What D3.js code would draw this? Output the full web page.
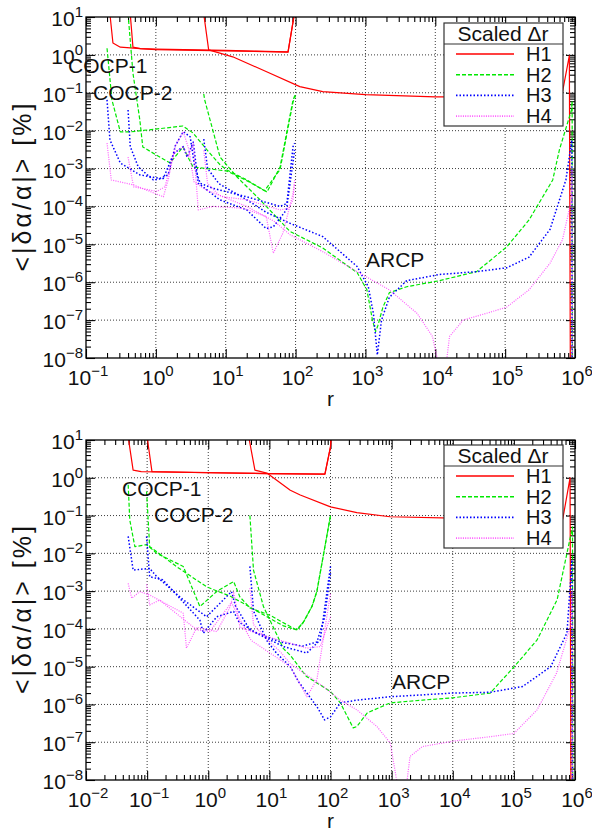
<!DOCTYPE html>
<html>
<head>
<meta charset="utf-8">
<script src="https://cdn.jsdelivr.net/npm/d3@7/dist/d3.min.js"></script>
<style>
  body { margin: 0; background: #fff; }
  svg { display: block; font-family: "Liberation Sans", Arial, Helvetica, sans-serif; }
</style>
</head>
<body>
<svg id="chart" width="592" height="833"></svg>
<script>
// ---- data: each series holds [COCP-1, COCP-2, ARCP] curves as [r, <|da/a|>] pairs ----
const topH1 = [
  [[0.22, 12], [0.243, 2.06], [0.31, 1.6], [0.6, 1.47], [1, 1.42], [10, 1.32], [78, 1.2], [98, 15]],
  [[0.43, 12], [0.47, 1.6], [0.6, 1.46], [1, 1.38], [10, 1.28], [78, 1.18], [98, 15]],
  [[4.85, 12], [5.7, 1.35], [12.6, 0.89], [38.5, 0.36], [115, 0.145], [245, 0.107], [1000, 0.089],
   [1e4, 0.078], [1e5, 0.078], [5.4e5, 0.074], [6.4e5, 0.076], [8.3e5, 0.95], [8.6e5, 1e-9]]
];
const topH2 = [
  [[0.2, 1.5], [0.235, 0.065], [0.31, 0.0093], [0.43, 0.0093], [1, 0.011], [2.44, 0.0133], [3.4, 0.0087],
   [5.4, 0.0031], [8.3, 0.00126], [10.4, 0.00092], [20, 0.0005], [39, 0.00024], [60, 0.0011], [92, 0.065], [100, 0.095]],
  [[0.4, 12], [0.47, 0.33], [0.59, 0.019], [0.65, 0.0037], [1.6, 0.0014], [2.44, 0.0037], [3.4, 0.0011],
   [5.4, 0.001], [10.4, 0.00086], [20, 0.00048], [36, 0.00026], [60, 0.00095], [92, 0.058], [100, 0.083]],
  [[4.85, 0.093], [5, 0.065], [8.3, 0.002], [14.5, 0.0006], [31, 0.00015], [83, 2.2e-5], [245, 8e-6],
   [760, 1.8e-6], [1050, 6.3e-7], [1260, 1e-7], [1400, 5e-8], [1500, 7e-8], [1780, 2.2e-7], [2200, 5.3e-7],
   [3900, 7.6e-7], [1.15e4, 1.1e-6], [3.9e4, 1.9e-6], [1.05e5, 8.5e-6], [2.2e5, 4.4e-5], [4.8e5, 5e-4],
   [6e5, 3.2e-3], [8.9e5, 0.035], [9.1e5, 0.06], [9.2e5, 1e-9]]
];
const topH3 = [
  [[0.2, 0.065], [0.22, 5.7e-3], [0.31, 1.4e-3], [0.59, 6.8e-4], [1.14, 5.5e-4], [1.5, 6.8e-4], [1.9, 4e-3],
   [2.47, 9.4e-3], [3.1, 6.9e-3], [3.6, 1.1e-3], [4.3, 4.1e-4], [6.6, 3e-4], [20, 1.8e-4], [60, 1e-4],
   [75, 1.2e-4], [92, 3.8e-3], [97, 4.7e-3]],
  [[0.4, 0.035], [0.43, 3.8e-3], [0.56, 1.1e-3], [0.92, 5e-4], [1.28, 5.5e-4], [1.8, 2.5e-3], [2.47, 3.8e-3],
   [2.8, 2e-3], [3.43, 5e-3], [4.05, 4.1e-4], [8.2, 1.5e-4], [20, 8.1e-5], [38, 2.6e-5], [48, 2.9e-5],
   [74, 8.1e-5], [97, 3.1e-3]],
  [[4.85, 6e-3], [5.5, 1e-3], [8, 4e-4], [11.5, 2.7e-4], [20, 1.5e-4], [38, 7e-5], [83, 3.6e-5], [245, 1.6e-5],
   [760, 2.6e-6], [1100, 7.6e-7], [1300, 1.5e-7], [1480, 1.2e-8], [1700, 1e-7], [2200, 4e-7], [3900, 1.1e-6],
   [1.15e4, 1.6e-6], [3.9e4, 1.9e-6], [1.05e5, 2.4e-6], [2.2e5, 4.6e-6], [4.4e5, 2.5e-5], [7.4e5, 5e-4],
   [9.0e5, 5.6e-3], [9.1e5, 1e-9]]
];
const topH4 = [
  [[0.2, 4.7e-3], [0.23, 5e-4], [0.48, 3.7e-4], [1.28, 1.8e-4], [1.5, 5e-4], [1.9, 4e-3], [2.47, 9.4e-3],
   [3.0, 3e-3], [3.5, 4.5e-4], [5.3, 2.7e-4], [9.2, 1.8e-4], [20, 1.5e-4], [60, 8.1e-5], [80, 9e-5],
   [92, 1.5e-4], [97, 4e-4]],
  [[0.4, 2e-3], [0.48, 3.3e-4], [1.03, 2.5e-4], [1.35, 3.3e-4], [1.8, 2.5e-3], [2.47, 3.8e-3], [2.9, 2e-3],
   [3.43, 4.7e-3], [4.05, 8.1e-5], [6.6, 1e-4], [17.8, 9e-5], [38, 5.4e-5], [48, 5.8e-6], [66, 2e-5],
   [92, 2.2e-4], [97, 5e-4]],
  [[4.85, 3e-3], [5.5, 4e-4], [8, 2e-4], [20, 1e-4], [50, 4e-5], [83, 1.8e-5], [245, 6.4e-6], [760, 1.9e-6],
   [2200, 6.3e-7], [5500, 1.5e-7], [9100, 3.7e-8], [1.15e4, 5e-9], [1.4e4, 5e-9], [1.6e4, 3.7e-8],
   [2.5e4, 1e-7], [6e4, 1.6e-7], [1.05e5, 2.2e-7], [2.2e5, 6.3e-7], [4.4e5, 3.2e-6], [6.6e5, 1.3e-5],
   [8.9e5, 1.5e-4], [9.1e5, 1e-3], [9.2e5, 1e-9]]
];

const botH1 = [
  [[0.049, 12], [0.059, 1.6], [0.08, 1.45], [1, 1.36], [10, 1.29], [81, 1.25], [100, 6.6], [102, 12]],
  [[0.1, 12], [0.12, 1.45], [1, 1.37], [10, 1.29], [81, 1.25], [100, 6.6], [102, 12]],
  [[4.6, 12], [5.8, 1.6], [9.1, 1.33], [22, 0.47], [32, 0.35], [100, 0.17], [270, 0.12], [940, 0.093],
   [1e4, 0.086], [1e5, 0.082], [5.1e5, 0.077], [6.3e5, 0.08], [8.3e5, 0.99], [8.6e5, 1e-9]]
];
const botH2 = [
  [[0.049, 0.65], [0.052, 0.077], [0.063, 0.015], [0.098, 0.017], [0.144, 0.01], [0.39, 4.5e-3], [0.73, 3.9e-4],
   [1.38, 9.8e-4], [2.6, 1.8e-3], [3.3, 7e-4], [4.8, 3.6e-4], [10.2, 2.3e-4], [28, 9.3e-5], [36, 1.5e-4],
   [50, 4e-4], [60, 1e-3], [81, 0.015], [100, 0.1]],
  [[0.098, 0.43], [0.11, 0.015], [0.144, 0.011], [0.3, 4.5e-3], [0.94, 1.3e-3], [2.3, 7.3e-4], [3.8, 4.7e-4],
   [9.1, 2.1e-4], [17, 1.2e-4], [28, 9.5e-5], [36, 1.5e-4], [50, 4e-4], [60, 1e-3], [81, 0.015], [100, 0.1]],
  [[4.8, 0.1], [5.5, 3.6e-3], [8, 3.9e-4], [17, 3e-5], [22, 2e-5], [40, 5.6e-6], [100, 2.2e-6], [145, 1.1e-6],
   [235, 2.4e-7], [270, 2.6e-7], [400, 6e-7], [950, 1.1e-6], [3200, 1.3e-6], [1e4, 1.5e-6], [4.1e4, 2e-6],
   [1e5, 9.8e-6], [2.4e5, 5.1e-5], [5.1e5, 5.9e-4], [8.9e5, 0.042], [9.1e5, 0.05], [9.2e5, 1e-9]]
];
const botH3 = [
  [[0.049, 0.028], [0.059, 3.6e-3], [0.11, 4e-3], [0.144, 2.4e-3], [0.39, 5.9e-4], [0.94, 2.1e-4],
   [2.4, 9.7e-4], [2.8, 4e-4], [4.8, 9.4e-5], [17, 3.4e-5], [41, 2.3e-5], [68, 5.1e-5], [100, 4.5e-3]],
  [[0.098, 0.028], [0.11, 2.4e-3], [0.18, 2e-3], [0.73, 1.7e-4], [0.83, 7.7e-5], [1.38, 2.1e-4], [2.6, 2.9e-4],
   [3.2, 1.5e-4], [6, 8e-5], [15, 4.5e-5], [35, 3.5e-5], [60, 4.5e-5], [80, 2e-4], [100, 3e-3]],
  [[4.8, 4.5e-3], [5.5, 3e-4], [9, 5e-5], [13, 2.3e-5], [22, 1e-5], [30, 4e-6], [60, 8.7e-7], [80, 3.9e-7],
   [100, 4.7e-7], [145, 1.1e-6], [270, 1.3e-6], [950, 1.6e-6], [1e4, 2e-6], [4.1e4, 2.1e-6], [1.4e5, 3e-6],
   [4e5, 1e-5], [7.4e5, 7.8e-5], [8.9e5, 6.7e-3], [9.1e5, 1e-9]]
];
const botH4 = [
  [[0.049, 1.6e-3], [0.056, 6.5e-4], [0.076, 9.7e-4], [0.11, 7.9e-4], [0.39, 2.6e-4], [0.44, 3.1e-5],
   [0.65, 1.1e-4], [1.38, 8.5e-5], [2.3, 3.9e-4], [2.6, 9.7e-4], [3.3, 1.1e-4], [9.1, 6.3e-5], [41, 3.1e-5],
   [68, 3.4e-5], [100, 2.1e-4]],
  [[0.098, 1.5e-3], [0.11, 4.3e-4], [0.16, 5.8e-4], [0.65, 9.4e-5], [1.06, 8.5e-5], [2.4, 5e-4], [2.8, 3e-4],
   [5, 5e-5], [22, 1e-5], [41, 1.6e-6], [60, 4.6e-6], [100, 8.8e-4]],
  [[4.8, 1.2e-3], [5.5, 1.3e-4], [9, 5.5e-5], [15, 2.5e-5], [22, 1.2e-5], [76, 3e-6], [145, 1.3e-6],
   [270, 7.2e-7], [575, 2.6e-7], [950, 9.5e-8], [1300, 5e-9], [1700, 5e-9], [2000, 4.2e-8], [3200, 7.7e-8],
   [1.15e4, 1.1e-7], [4.1e4, 1.4e-7], [1e5, 1.7e-7], [2.4e5, 7.2e-7], [5e5, 6.8e-6], [8.3e5, 1.1e-4],
   [9e5, 1e-3], [9.1e5, 1e-9]]
];

const seriesNames = ['H1', 'H2', 'H3', 'H4'];
const yExponents = [-8, -7, -6, -5, -4, -3, -2, -1, 0, 1];
const topXExponents = [-1, 0, 1, 2, 3, 4, 5, 6];
const botXExponents = [-2, -1, 0, 1, 2, 3, 4, 5, 6];

// line styles for H1..H4
const styles = [
  { color: '#ff0000', width: 1.2, dash: null, opacity: 1 },
  { color: '#00e800', width: 1.2, dash: '4,2', opacity: 1 },
  { color: '#0000ff', width: 1.5, dash: '1.5,2', opacity: 1 },
  { color: '#ff33ff', width: 1.2, dash: '1,1.3', opacity: 0.8 }
];

const svg = d3.select('#chart');
const left = 86, right = 575;

function minors(lo, hi) {
  const out = [];
  for (let e = lo; e < hi; e++) {
    for (let k = 2; k <= 9; k++) out.push(k * Math.pow(10, e));
  }
  return out;
}

// "10" with a raised exponent
function powerLabel(t, e) {
  t.append('tspan').text('10');
  t.append('tspan').attr('dy', -9).attr('font-size', 15)
    .text(e < 0 ? '\u2212' + Math.abs(e) : String(e));
}

function drawPanel(p) {
  const xs = p.xExp;
  const x = d3.scaleLog()
    .domain([Math.pow(10, xs[0]), Math.pow(10, xs[xs.length - 1])])
    .range([left, right]);
  const y = d3.scaleLog().domain([1e-8, 10]).range([p.bottom, p.top]);
  const xMajor = xs.map(e => Math.pow(10, e));
  const yMajor = yExponents.map(e => Math.pow(10, e));
  const xMinor = minors(xs[0], xs[xs.length - 1]);
  const yMinor = minors(-8, 1);

  const g = svg.append('g');

  g.append('clipPath').attr('id', 'clip-' + p.id)
    .append('rect')
    .attr('x', left).attr('y', p.top)
    .attr('width', right - left).attr('height', p.bottom - p.top);

  // dotted grid
  const grid = g.append('g')
    .attr('stroke', '#000').attr('stroke-width', 0.9)
    .attr('stroke-dasharray', '1,2').attr('opacity', 0.85);
  grid.selectAll('.gx').data(xMajor.slice(1, -1)).enter().append('line')
    .attr('x1', d => x(d)).attr('x2', d => x(d))
    .attr('y1', p.top).attr('y2', p.bottom);
  grid.selectAll('.gy').data(yMajor.slice(1, -1)).enter().append('line')
    .attr('x1', left).attr('x2', right)
    .attr('y1', d => y(d)).attr('y2', d => y(d));

  // inward ticks on all four sides
  const tickAxes = [
    [d3.axisBottom(x), `translate(0,${p.top})`, xMajor, xMinor],
    [d3.axisTop(x), `translate(0,${p.bottom})`, xMajor, xMinor],
    [d3.axisRight(y), `translate(${left},0)`, yMajor, yMinor],
    [d3.axisLeft(y), `translate(${right},0)`, yMajor, yMinor]
  ];
  tickAxes.forEach(([axis, tr, major, minor]) => {
    g.append('g').attr('transform', tr)
      .call(axis.tickValues(major).tickSize(9).tickSizeOuter(0).tickFormat(''))
      .call(s => s.select('.domain').remove());
    g.append('g').attr('transform', tr)
      .call(axis.tickValues(minor).tickSize(5).tickSizeOuter(0).tickFormat(''))
      .call(s => s.select('.domain').remove());
  });
  g.selectAll('.tick line').attr('stroke', '#000').attr('stroke-width', 1.1);

  // curves
  const line = d3.line().x(d => x(d[0])).y(d => y(d[1]));
  const curves = g.append('g').attr('clip-path', `url(#clip-${p.id})`);
  p.series.forEach((set, i) => {
    const st = styles[i];
    set.forEach(curve => {
      curves.append('path')
        .datum(curve)
        .attr('d', line)
        .attr('fill', 'none')
        .attr('stroke', st.color)
        .attr('stroke-width', st.width)
        .attr('stroke-dasharray', st.dash)
        .attr('stroke-opacity', st.opacity)
        .attr('stroke-linejoin', 'round');
    });
  });

  // frame
  g.append('rect')
    .attr('x', left).attr('y', p.top)
    .attr('width', right - left).attr('height', p.bottom - p.top)
    .attr('fill', 'none').attr('stroke', '#000').attr('stroke-width', 1.3);

  // y tick labels
  yExponents.forEach(e => {
    const t = g.append('text')
      .attr('x', left - 3).attr('y', y(Math.pow(10, e)) + 9)
      .attr('text-anchor', 'end').attr('font-size', 21).attr('fill', '#111');
    powerLabel(t, e);
  });

  // x tick labels
  xs.forEach(e => {
    const t = g.append('text')
      .attr('x', x(Math.pow(10, e)) + 2).attr('y', p.bottom + 27)
      .attr('text-anchor', 'middle').attr('font-size', 21).attr('fill', '#111');
    powerLabel(t, e);
  });

  // axis titles
  g.append('text')
    .attr('x', (left + right) / 2).attr('y', p.bottom + 48)
    .attr('text-anchor', 'middle').attr('font-size', 21).attr('fill', '#111')
    .text('r');
  g.append('text')
    .attr('transform', `translate(31,${(p.top + p.bottom) / 2}) rotate(-90)`)
    .attr('text-anchor', 'middle').attr('font-size', 25).attr('fill', '#111')
    .attr('textLength', 168).attr('lengthAdjust', 'spacing')
    .text('<|δα/α|> [%]');

  // annotations
  p.notes.forEach(n => {
    g.append('text')
      .attr('x', n.x).attr('y', n.y)
      .attr('font-size', 21).attr('fill', '#111')
      .text(n.text);
  });

  // legend
  const lg = g.append('g').attr('transform', `translate(444,${p.top + p.legendDy})`);
  lg.append('rect')
    .attr('width', 119).attr('height', 103)
    .attr('fill', '#fff').attr('stroke', '#333').attr('stroke-width', 1.2);
  lg.append('line')
    .attr('x1', 0).attr('x2', 119).attr('y1', 21).attr('y2', 21)
    .attr('stroke', '#333').attr('stroke-width', 1.2);
  lg.append('text')
    .attr('x', 59).attr('y', 18).attr('text-anchor', 'middle')
    .attr('font-size', 21).attr('fill', '#111')
    .text('Scaled Δr');
  seriesNames.forEach((name, i) => {
    const st = styles[i];
    const yy = 31 + i * 20.7;
    lg.append('line')
      .attr('x1', 12).attr('x2', 70).attr('y1', yy).attr('y2', yy)
      .attr('stroke', st.color).attr('stroke-width', st.width + 0.4)
      .attr('stroke-dasharray', st.dash).attr('stroke-opacity', st.opacity);
    lg.append('text')
      .attr('x', 82).attr('y', yy + 7)
      .attr('font-size', 20).attr('fill', '#111')
      .text(name);
  });
}

drawPanel({
  id: 'top', top: 17, bottom: 358, xExp: topXExponents,
  series: [topH1, topH2, topH3, topH4], legendDy: 6,
  notes: [
    { text: 'COCP-1', x: 68, y: 73 },
    { text: 'COCP-2', x: 93, y: 100 },
    { text: 'ARCP', x: 366, y: 267 }
  ]
});

drawPanel({
  id: 'bot', top: 440, bottom: 780, xExp: botXExponents,
  series: [botH1, botH2, botH3, botH4], legendDy: 5,
  notes: [
    { text: 'COCP-1', x: 122, y: 496 },
    { text: 'COCP-2', x: 154, y: 522 },
    { text: 'ARCP', x: 392, y: 689 }
  ]
});
</script>
</body>
</html>
